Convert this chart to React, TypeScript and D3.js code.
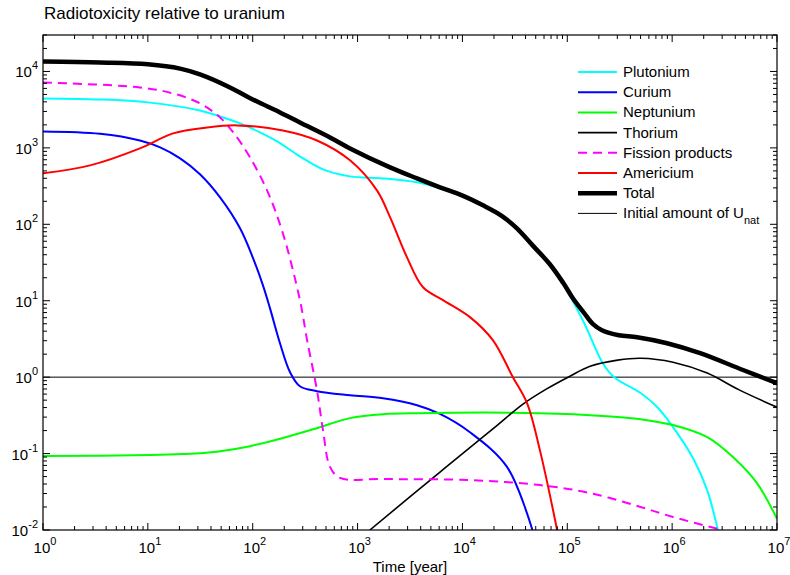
import React from "react";
import * as d3 from "d3";

// ---- data (time in years, radiotoxicity relative to uranium) ----
const totalT = [1, 3.5, 10, 20.3, 31.4, 60.7, 100, 182, 282, 546, 847, 2040, 3690, 6110, 9910, 15700, 23300, 33100, 46700, 68200, 92000, 113000, 145000, 176000, 214000, 310000, 464000, 894000, 1.85e6, 4.74e6, 1e7];
const totalV = [13500, 13100, 12400, 10900, 9150, 6180, 4300, 2910, 2150, 1370, 985, 556, 399, 305, 239, 177, 131, 88.7, 53, 30, 16.9, 10.8, 6.9, 4.93, 4.11, 3.54, 3.33, 2.78, 2.06, 1.24, 0.835];

const plutoniumT = [1, 3.5, 10, 31.4, 48.8, 75.7, 117, 171, 282, 468, 847, 1750, 3690, 6110, 9910, 15700, 23300, 33100, 46700, 68200, 92000, 145000, 218000, 280000, 500000, 716000, 1.02e6, 1.62e6, 2.16e6, 2.73e6];
const plutoniumV = [4440, 4300, 3940, 3090, 2580, 2090, 1600, 1220, 774, 524, 424, 399, 354, 295, 232, 172, 127, 86, 51, 29, 16.2, 5.1, 1.52, 1.0, 0.62, 0.41, 0.222, 0.082, 0.033, 0.01];

const curiumT = [1, 3.5, 8.4, 13.1, 20.3, 31.4, 48.8, 75.7, 100, 125, 146, 182, 227, 282, 410, 847, 1750, 3690, 6110, 11800, 26600, 46500];
const curiumV = [1640, 1530, 1250, 1015, 729, 451, 225, 88.7, 37, 16, 8.0, 2.78, 1.16, 0.76, 0.656, 0.58, 0.53, 0.43, 0.33, 0.19, 0.067, 0.01];

const neptuniumT = [1, 10.5, 21.6, 45.6, 94.2, 194, 410, 847, 1750, 3690, 54800, 239000, 500000, 1.02e6, 2.16e6, 3.8e6, 6.44e6, 1e7];
const neptuniumV = [0.093, 0.0955, 0.0985, 0.106, 0.125, 0.16, 0.215, 0.291, 0.328, 0.338, 0.338, 0.309, 0.282, 0.236, 0.164, 0.09, 0.041, 0.014];

const thoriumT = [1310, 6110, 19900, 37800, 63000, 106000, 165000, 302000, 500000, 1.02e6, 2.16e6, 4.4e6, 1e7];
const thoriumV = [0.01, 0.0573, 0.215, 0.444, 0.697, 1.03, 1.39, 1.67, 1.77, 1.57, 1.13, 0.676, 0.405];

const fissionT = [1, 8.4, 17.4, 31.4, 48.8, 70.8, 94.2, 137, 194, 282, 330, 410, 468, 546, 680, 1750, 11800, 54800, 164000, 500000, 1.02e6, 3.0e6];
const fissionV = [7180, 6180, 5160, 3820, 2500, 1370, 752, 278, 76, 10.2, 3.05, 0.675, 0.203, 0.067, 0.048, 0.0465, 0.045, 0.0387, 0.0305, 0.02, 0.0148, 0.01];

const americiumT = [1, 2.81, 8.4, 17.4, 36.6, 70.8, 194, 410, 847, 1530, 2040, 2960, 4210, 6530, 11800, 19500, 30300, 41300, 54800, 80000];
const americiumV = [464, 590, 985, 1550, 1850, 1970, 1690, 1250, 687, 278, 124, 37, 15, 10.2, 6.1, 3.05, 1.0, 0.457, 0.111, 0.01];

const uNatT = [1, 1e7];
const uNatV = [1, 1];

const xDecades = [0, 1, 2, 3, 4, 5, 6, 7];
const yDecades = [-2, -1, 0, 1, 2, 3, 4];

const seriesNames = ["Plutonium", "Curium", "Neptunium", "Thorium", "Fission products", "Americium", "Total"];

const W = 790, H = 575;
const L = 43, R = 777, T = 35, B = 530;
const FONT = "'Liberation Sans', Arial, Helvetica, sans-serif";

export default function App() {
  const x = d3.scaleLog().domain([1, 1e7]).range([L, R]);
  const y = d3.scaleLog().domain([0.01, 3e4]).range([B, T]);

  const mk = (ts: number[], vs: number[]) => {
    const pts = ts.map((t, i) => [t, vs[i]] as [number, number]);
    return d3.line<[number, number]>()
      .x(d => x(d[0]))
      .y(d => y(d[1]))
      .curve(d3.curveCatmullRom.alpha(0.5))(pts) || "";
  };

  const series = [
    { name: seriesNames[0], d: mk(plutoniumT, plutoniumV), color: "#00ffff", w: 2, dash: "" },
    { name: seriesNames[1], d: mk(curiumT, curiumV), color: "#0000ff", w: 2, dash: "" },
    { name: seriesNames[2], d: mk(neptuniumT, neptuniumV), color: "#00ff00", w: 2, dash: "" },
    { name: seriesNames[3], d: mk(thoriumT, thoriumV), color: "#000000", w: 1.6, dash: "" },
    { name: seriesNames[4], d: mk(fissionT, fissionV), color: "#ff00ff", w: 2, dash: "9,6" },
    { name: seriesNames[5], d: mk(americiumT, americiumV), color: "#ff0000", w: 2, dash: "" },
    { name: seriesNames[6], d: mk(totalT, totalV), color: "#000000", w: 4.5, dash: "" },
  ];

  const xMinor: number[] = [];
  for (let e = 0; e < 7; e++) for (let k = 2; k <= 9; k++) xMinor.push(k * Math.pow(10, e));
  const yMinor: number[] = [];
  for (let e = -2; e <= 4; e++) for (let k = 2; k <= 9; k++) { const v = k * Math.pow(10, e); if (v <= 3e4) yMinor.push(v); }

  const maj = 7, mnr = 4;
  const legendX1 = 578, legendX2 = 617, legendTx = 623, legendY0 = 72, legendDy = 20.2;

  return (
    <svg width={W} height={H} style={{ position: "absolute", left: 0, top: 0, background: "#fff" }} fontFamily={FONT}>
      <defs>
        <clipPath id="plotclip"><rect x={L} y={T} width={R - L} height={B - T} /></clipPath>
      </defs>
      <rect x={0} y={0} width={W} height={H} fill="#fff" />
      <text x={44} y={19} fontSize={17} fill="#000">Radiotoxicity relative to uranium</text>

      <g clipPath="url(#plotclip)" fill="none" strokeLinejoin="round">
        <path d={mk(uNatT, uNatV)} stroke="#000" strokeWidth={1} />
        {series.map(s => (
          <path key={s.name} d={s.d} stroke={s.color} strokeWidth={s.w} strokeDasharray={s.dash || undefined} />
        ))}
      </g>

      <rect x={L} y={T} width={R - L} height={B - T} fill="none" stroke="#000" strokeWidth={1.2} />

      <g stroke="#000" strokeWidth={1}>
        {xDecades.map(e => { const px = x(Math.pow(10, e)); return (
          <g key={"xm" + e}>
            <line x1={px} x2={px} y1={B} y2={B - maj} />
            <line x1={px} x2={px} y1={T} y2={T + maj} />
          </g>); })}
        {xMinor.map(v => { const px = x(v); return (
          <g key={"xn" + v}>
            <line x1={px} x2={px} y1={B} y2={B - mnr} />
            <line x1={px} x2={px} y1={T} y2={T + mnr} />
          </g>); })}
        {yDecades.map(e => { const py = y(Math.pow(10, e)); return (
          <g key={"ym" + e}>
            <line x1={L} x2={L + maj} y1={py} y2={py} />
            <line x1={R} x2={R - maj} y1={py} y2={py} />
          </g>); })}
        {yMinor.map(v => { const py = y(v); return (
          <g key={"yn" + v}>
            <line x1={L} x2={L + mnr} y1={py} y2={py} />
            <line x1={R} x2={R - mnr} y1={py} y2={py} />
          </g>); })}
      </g>

      {xDecades.map(e => (
        <text key={"xl" + e} x={x(Math.pow(10, e)) + 2} y={553} fontSize={15} textAnchor="middle" fill="#000">
          10<tspan dy={-8} fontSize={11}>{String(e)}</tspan>
        </text>
      ))}
      {yDecades.map(e => (
        <text key={"yl" + e} x={38} y={y(Math.pow(10, e)) + 6} fontSize={15} textAnchor="end" fill="#000">
          10<tspan dy={-8} fontSize={11}>{e < 0 ? "-" + String(-e) : String(e)}</tspan>
        </text>
      ))}

      <text x={410} y={572} fontSize={15} textAnchor="middle" fill="#000">Time [year]</text>

      {series.map((s, i) => {
        const ly = legendY0 + i * legendDy;
        return (
          <g key={"lg" + s.name}>
            <line x1={legendX1} x2={legendX2} y1={ly} y2={ly} stroke={s.color} strokeWidth={s.w} strokeDasharray={s.dash || undefined} />
            <text x={legendTx} y={ly + 5} fontSize={15} fill="#000">{s.name}</text>
          </g>
        );
      })}
      <g>
        <line x1={legendX1} x2={legendX2} y1={legendY0 + 7 * legendDy} y2={legendY0 + 7 * legendDy} stroke="#000" strokeWidth={1} />
        <text x={legendTx} y={legendY0 + 7 * legendDy + 5} fontSize={15} fill="#000">
          Initial amount of U<tspan dy={6} fontSize={11}>nat</tspan>
        </text>
      </g>
    </svg>
  );
}
